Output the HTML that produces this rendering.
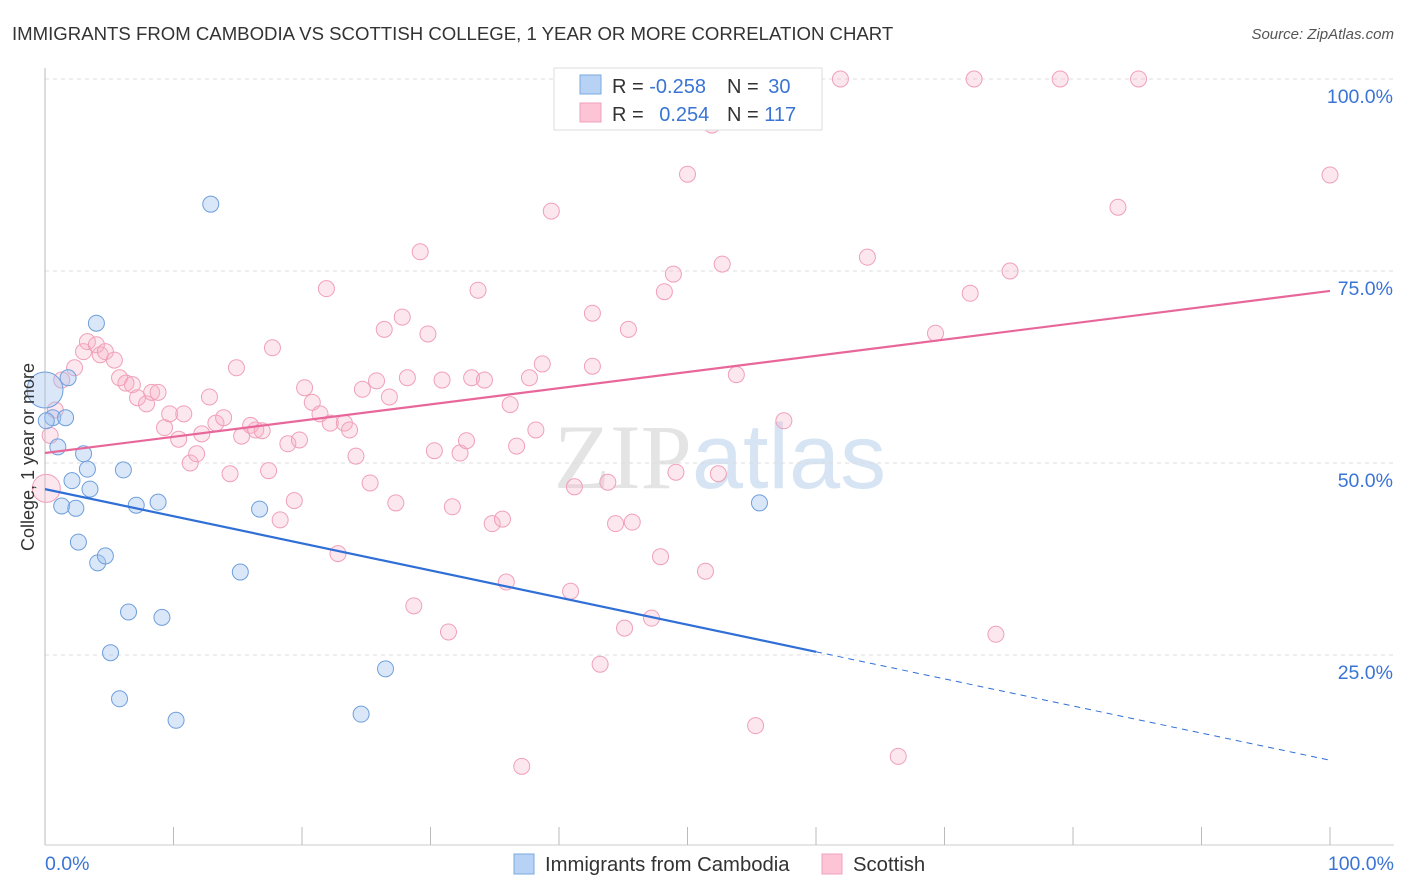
<!DOCTYPE html>
<html><head><meta charset="utf-8"><style>
body{margin:0;background:#fff;font-family:"Liberation Sans",sans-serif;}
svg{display:block}
</style></head><body>
<svg id="c" width="1406" height="892">
<text x="12" y="40" font-size="18.6" fill="#333">IMMIGRANTS FROM CAMBODIA VS SCOTTISH COLLEGE, 1 YEAR OR MORE CORRELATION CHART</text>
<text x="1394" y="39" font-size="15" fill="#555" font-style="italic" text-anchor="end">Source: ZipAtlas.com</text>
<text x="720" y="488" font-size="92" fill="#e4e4e4" text-anchor="middle" font-family="Liberation Serif,serif">ZIP<tspan fill="#d6e4f4" font-family="Liberation Sans,sans-serif">atlas</tspan></text>
<g id="grid"></g>
<g id="marks"></g>
<text transform="translate(34,457) rotate(-90)" font-size="18" fill="#333" text-anchor="middle">College, 1 year or more</text>
<g>
<rect x="554" y="68" width="268" height="62" fill="#fff" stroke="#ddd"/>
<rect x="580" y="75" width="21" height="19" fill="#b7d2f5" stroke="#7aaae0"/>
<rect x="580" y="103" width="21" height="19" fill="#fcc4d4" stroke="#f0a0b8"/>
<text x="612" y="93" font-size="20" fill="#333">R = <tspan fill="#3a74d4">-0.258</tspan></text>
<text x="727" y="93" font-size="20" fill="#333">N = <tspan fill="#3a74d4" dx="4">30</tspan></text>
<text x="612" y="121" font-size="20" fill="#333">R = <tspan fill="#3a74d4" dx="10">0.254</tspan></text>
<text x="727" y="121" font-size="20" fill="#333">N = <tspan fill="#3a74d4">117</tspan></text>
</g>
<g>
<rect x="514" y="854" width="20" height="20" fill="#b7d2f5" stroke="#7aaae0"/>
<text x="545" y="871" font-size="20.3" fill="#333">Immigrants from Cambodia</text>
<rect x="822" y="854" width="20" height="20" fill="#fcc4d4" stroke="#f0a0b8"/>
<text x="853" y="871" font-size="20.3" fill="#333">Scottish</text>
</g>
</svg>
<script>
const blueX=[0,0.6,1.0,1.8,4.0,1.6,3.0,3.3,3.5,2.1,1.3,2.4,2.6,4.1,4.7,6.1,7.1,8.8,6.5,9.1,5.1,5.8,10.2,12.9,15.2,16.7,24.6,26.5,55.6,0.1];
const blueY=[59.5,55.9,52.1,61.1,68.2,55.9,51.2,49.2,46.6,47.7,44.4,44.1,39.7,37.0,37.9,49.1,44.5,44.9,30.6,29.9,25.3,19.3,16.5,83.7,35.8,44.0,17.3,23.2,44.8,55.5];
const pinkX=[0.1,0.4,0.8,1.3,2.3,3.0,3.3,4.0,4.3,4.7,5.4,5.8,6.3,6.8,7.2,7.9,8.3,8.8,9.3,9.7,10.4,10.8,11.3,11.8,12.2,12.8,13.3,13.9,14.4,14.9,15.3,16.0,16.4,16.9,17.4,17.7,18.3,18.9,19.4,19.8,20.2,20.8,21.4,21.9,22.2,22.8,23.3,23.7,24.2,24.7,25.3,25.8,26.4,26.8,27.3,27.8,28.2,28.7,29.2,29.8,30.3,30.9,31.4,31.7,32.3,32.8,33.2,33.7,34.2,34.8,35.6,35.9,36.2,36.7,37.1,37.7,38.2,38.7,39.4,41.2,40.9,41.6,42.6,42.6,43.2,43.8,44.4,45.1,45.4,45.7,47.2,47.9,48.2,48.9,49.1,50.0,51.4,51.9,52.4,52.7,53.8,55.3,57.5,59.2,61.9,64.0,66.4,69.3,72.0,72.3,74.0,75.1,79.0,83.5,85.1,100];
const pinkY=[46.7,53.6,56.9,60.8,62.4,64.5,65.8,65.4,64.1,64.5,63.4,61.1,60.4,60.2,58.5,57.7,59.2,59.2,54.6,56.4,53.1,56.4,50.0,51.2,53.8,58.6,55.2,55.9,48.6,62.4,53.5,54.9,54.3,54.2,49.0,65.0,42.6,52.5,45.1,53.0,59.8,57.9,56.4,72.7,55.2,38.2,55.2,54.3,50.9,59.6,47.4,60.7,67.4,58.6,44.8,69.0,61.1,31.4,77.5,66.8,51.6,60.8,28.0,44.3,51.3,52.9,61.1,72.5,60.8,42.1,42.7,34.5,57.6,52.2,10.5,61.1,54.3,62.9,82.8,46.9,33.3,94.5,69.5,62.6,23.8,47.5,42.1,28.5,67.4,42.3,29.8,37.8,72.3,74.6,48.8,87.6,35.9,94.0,48.6,75.9,61.5,15.8,55.5,100,100,76.8,11.8,66.9,72.1,100,27.7,75.0,100,83.3,100,87.5];
const blueTrend=[46.6,11.3];
const pinkTrend=[51.3,72.4];
const yTicks=[25,50,75,100];
const yTickLabels=["25.0%","50.0%","75.0%","100.0%"];
const xTicks=[0,10,20,30,40,50,60,70,80,90,100];

const NS="http://www.w3.org/2000/svg";
const sx=v=>45+v*12.85, sy=v=>847-v*7.68;
function mk(t,a,p){const e=document.createElementNS(NS,t);for(const k in a)e.setAttribute(k,a[k]);p.appendChild(e);return e;}
const grid=document.getElementById('grid'), marks=document.getElementById('marks');
yTicks.forEach((t,i)=>{
 const l=mk('line',{x1:45,x2:1394,y1:sy(t),y2:sy(t),stroke:'#ddd','stroke-dasharray':'4,4'},grid);
 
 
 const tx=mk('text',{x:1393,y:sy(t)+24,'font-size':19.5,fill:'#3a74d4','text-anchor':'end'},grid);
 tx.textContent=yTickLabels[i];
 
 
});
const ax=mk('line',{x1:45,x2:45,y1:68,y2:845,stroke:'#bbb'},grid);


const bx=mk('line',{x1:45,x2:1394,y1:845,y2:845,stroke:'#ccc'},grid);


xTicks.forEach(t=>{
 const l=mk('line',{x1:sx(t),x2:sx(t),y1:827,y2:845,stroke:'#bbb'},grid);
 
 
});
const x0=mk('text',{x:45,y:870,'font-size':19.5,fill:'#3a74d4'},grid);x0.textContent='0.0%';


const x1=mk('text',{x:1394,y:870,'font-size':19.5,fill:'#3a74d4','text-anchor':'end'},grid);x1.textContent='100.0%';



pinkX.forEach((x,i)=>{
 const c=mk('circle',{cx:sx(x),cy:sy(pinkY[i]),r:i==0?14:8,fill:'rgba(248,175,198,0.3)',stroke:'#f0a0b8','stroke-width':1},marks);
 
 
});
blueX.forEach((x,i)=>{
 const c=mk('circle',{cx:sx(x),cy:sy(blueY[i]),r:i==0?18:8,fill:'rgba(160,195,240,0.4)',stroke:'#6f9fdc','stroke-width':1},marks);
 
 
});
const bAt=x=>blueTrend[0]+(blueTrend[1]-blueTrend[0])*x/100;
const pAt=x=>pinkTrend[0]+(pinkTrend[1]-pinkTrend[0])*x/100;
const pl=mk('line',{x1:sx(0),y1:sy(pAt(0)),x2:sx(100),y2:sy(pAt(100)),stroke:'#e8679a','stroke-width':2.2},marks);


const bl=mk('line',{x1:sx(0),y1:sy(bAt(0)),x2:sx(60),y2:sy(bAt(60)),stroke:'#2f6fd6','stroke-width':2.2},marks);


const bd=mk('line',{x1:sx(60),y1:sy(bAt(60)),x2:sx(100),y2:sy(bAt(100)),stroke:'#2f6fd6','stroke-width':1,'stroke-dasharray':'6,5'},marks);


</script>
</body></html>
